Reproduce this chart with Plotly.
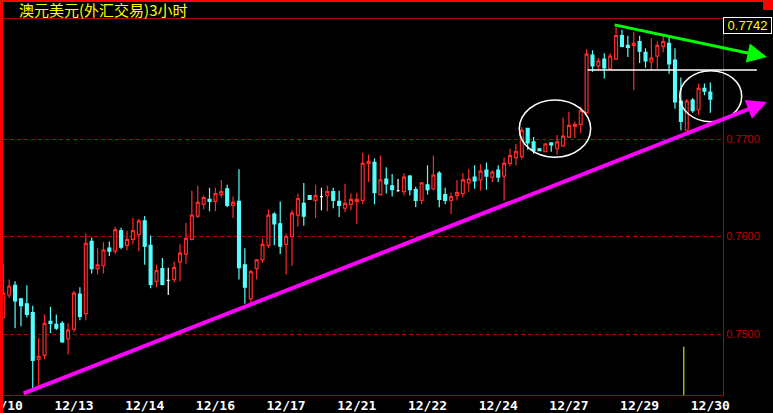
import plotly.graph_objects as go

# ---------------- data ----------------
title_text = "澳元美元(外汇交易)3小时"
last_price_label = "0.7742"

tick_index = [0, 12, 24, 36, 48, 60, 72, 84, 96, 108, 120]
tick_dates = ["12/10", "12/13", "12/14", "12/16", "12/17", "12/21",
              "12/22", "12/24", "12/27", "12/29", "12/30"]

open_p = [0.7517, 0.7540, 0.7550, 0.7536, 0.7531, 0.7522, 0.7474, 0.7478, 0.7513, 0.7510,
          0.7511, 0.7495, 0.7505, 0.7541, 0.7521, 0.7595, 0.7567, 0.7570, 0.7588, 0.7585,
          0.7606, 0.7591, 0.7597, 0.7602, 0.7616, 0.7591, 0.7554, 0.7567, 0.7555, 0.7556,
          0.7574, 0.7582, 0.7597, 0.7621, 0.7633, 0.7638, 0.7636, 0.7643, 0.7649, 0.7632,
          0.7636, 0.7571, 0.7536, 0.7567, 0.7576, 0.7591, 0.7623, 0.7613, 0.7592, 0.7600,
          0.7622, 0.7634, 0.7642, 0.7637, 0.7641, 0.7642, 0.7646, 0.7636, 0.7629, 0.7633,
          0.7636, 0.7637, 0.7675, 0.7676, 0.7643, 0.7659, 0.7652, 0.7647, 0.7646, 0.7662,
          0.7648, 0.7637, 0.7653, 0.7649, 0.7665, 0.7643, 0.7637, 0.7642, 0.7644, 0.7655,
          0.7661, 0.7658, 0.7668, 0.7661, 0.7668, 0.7662, 0.7675, 0.7681, 0.7682, 0.7711,
          0.7697, 0.7690, 0.7687, 0.7696, 0.7690, 0.7693, 0.7702, 0.7713, 0.7715, 0.7727,
          0.7786, 0.7775, 0.7782, 0.7772, 0.7782, 0.7806, 0.7796, 0.7796, 0.7800, 0.7789,
          0.7779, 0.7785, 0.7795, 0.7798, 0.7781, 0.7739, 0.7709, 0.7740, 0.7730, 0.7752,
          0.7748]
high_p = [0.7572, 0.7556, 0.7554, 0.7537, 0.7550, 0.7529, 0.7496, 0.7520, 0.7528, 0.7520,
          0.7513, 0.7511, 0.7544, 0.7548, 0.7603, 0.7599, 0.7588, 0.7594, 0.7595, 0.7610,
          0.7609, 0.7606, 0.7619, 0.7618, 0.7621, 0.7601, 0.7571, 0.7578, 0.7568, 0.7574,
          0.7592, 0.7614, 0.7647, 0.7652, 0.7642, 0.7650, 0.7650, 0.7658, 0.7653, 0.7641,
          0.7669, 0.7588, 0.7566, 0.7577, 0.7598, 0.7628, 0.7625, 0.7636, 0.7603, 0.7627,
          0.7644, 0.7655, 0.7642, 0.7653, 0.7650, 0.7652, 0.7650, 0.7647, 0.7654, 0.7644,
          0.7645, 0.7686, 0.7684, 0.7680, 0.7683, 0.7671, 0.7664, 0.7659, 0.7665, 0.7663,
          0.7651, 0.7656, 0.7673, 0.7683, 0.7667, 0.7650, 0.7645, 0.7658, 0.7665, 0.7669,
          0.7673, 0.7674, 0.7676, 0.7668, 0.7673, 0.7681, 0.7690, 0.7695, 0.7712, 0.7711,
          0.7702, 0.7690, 0.7695, 0.7696, 0.7704, 0.7722, 0.7728, 0.7718, 0.7733, 0.7792,
          0.7791, 0.7783, 0.7788, 0.7788, 0.7815, 0.7812, 0.7806, 0.7810, 0.7806, 0.7793,
          0.7803, 0.7800, 0.7806, 0.7805, 0.7793, 0.7763, 0.7741, 0.7742, 0.7757, 0.7757,
          0.7758]
low_p = [0.7516, 0.7537, 0.7506, 0.7508, 0.7517, 0.7444, 0.7446, 0.7474, 0.7501, 0.7504,
         0.7491, 0.7479, 0.7502, 0.7514, 0.7514, 0.7562, 0.7561, 0.7562, 0.7580, 0.7582,
         0.7587, 0.7586, 0.7592, 0.7585, 0.7571, 0.7547, 0.7548, 0.7550, 0.7540, 0.7553,
         0.7554, 0.7572, 0.7596, 0.7619, 0.7628, 0.7626, 0.7626, 0.7640, 0.7630, 0.7619,
         0.7556, 0.7531, 0.7532, 0.7556, 0.7573, 0.7588, 0.7591, 0.7582, 0.7561, 0.7570,
         0.7610, 0.7611, 0.7638, 0.7619, 0.7627, 0.7626, 0.7629, 0.7620, 0.7625, 0.7627,
         0.7613, 0.7633, 0.7656, 0.7633, 0.7642, 0.7644, 0.7641, 0.7646, 0.7642, 0.7642,
         0.7630, 0.7633, 0.7643, 0.7647, 0.7630, 0.7633, 0.7623, 0.7637, 0.7640, 0.7646,
         0.7649, 0.7647, 0.7648, 0.7656, 0.7656, 0.7637, 0.7672, 0.7673, 0.7679, 0.7689,
         0.7685, 0.7688, 0.7687, 0.7687, 0.7684, 0.7692, 0.7701, 0.7701, 0.7706, 0.7726,
         0.7769, 0.7771, 0.7762, 0.7771, 0.7781, 0.7794, 0.7784, 0.7750, 0.7778, 0.7773,
         0.7771, 0.7772, 0.7789, 0.7767, 0.7731, 0.7709, 0.7708, 0.7727, 0.7725, 0.7745,
         0.7727]
close_p = [0.7542, 0.7549, 0.7534, 0.7529, 0.7520, 0.7473, 0.7477, 0.7511, 0.7511, 0.7506,
           0.7492, 0.7504, 0.7542, 0.7518, 0.7593, 0.7567, 0.7571, 0.7586, 0.7585, 0.7607,
           0.7589, 0.7597, 0.7606, 0.7616, 0.7590, 0.7551, 0.7565, 0.7551, 0.7555, 0.7568,
           0.7583, 0.7598, 0.7622, 0.7635, 0.7640, 0.7636, 0.7644, 0.7646, 0.7632, 0.7635,
           0.7568, 0.7548, 0.7564, 0.7576, 0.7592, 0.7622, 0.7613, 0.7590, 0.7600, 0.7624,
           0.7639, 0.7621, 0.7638, 0.7642, 0.7641, 0.7646, 0.7637, 0.7632, 0.7634, 0.7638,
           0.7638, 0.7675, 0.7677, 0.7645, 0.7658, 0.7654, 0.7648, 0.7647, 0.7661, 0.7648,
           0.7637, 0.7655, 0.7648, 0.7663, 0.7638, 0.7637, 0.7641, 0.7645, 0.7658, 0.7659,
           0.7657, 0.7667, 0.7662, 0.7666, 0.7661, 0.7675, 0.7683, 0.7687, 0.7709, 0.7696,
           0.7688, 0.7688, 0.7695, 0.7694, 0.7697, 0.7703, 0.7714, 0.7715, 0.7729, 0.7787,
           0.7775, 0.7780, 0.7773, 0.7785, 0.7806, 0.7795, 0.7794, 0.7798, 0.7790, 0.7780,
           0.7783, 0.7796, 0.7800, 0.7777, 0.7738, 0.7718, 0.7739, 0.7729, 0.7752, 0.7749,
           0.7741]

grid_levels = [0.75, 0.76, 0.77]

# single yellow volume-style spike near the bottom
spike_x = [115.5, 115.5]
spike_y = [0.7487, 0.7430]

# drawn trend lines: (candle index, price) endpoints
support_line = [(3.2, 0.74385), (129.6, 0.77379)]
resist_line = [(103.5, 0.78174), (129.6, 0.77841)]
level_line = [(98.9, 0.77708), (127.9, 0.77708)]

# ---------------- styling ----------------
RED = "#ff2a2a"
CYAN = "#54ffff"
FRAME = "#b40000"
MAGENTA = "#ff00ff"
GREEN = "#00ff00"

idx = list(range(len(open_p)))
reg = [i for i in idx if open_p[i] != close_p[i]]
doj = [i for i in idx if open_p[i] == close_p[i]]

def pick(arr, ids):
    return [arr[i] for i in ids]

fig = go.Figure()
fig.add_trace(go.Candlestick(
    x=reg, open=pick(open_p, reg), high=pick(high_p, reg),
    low=pick(low_p, reg), close=pick(close_p, reg),
    increasing=dict(line=dict(color=RED, width=1.2), fillcolor="#000000"),
    decreasing=dict(line=dict(color=CYAN, width=1.2), fillcolor=CYAN),
    whiskerwidth=0, hoverinfo="skip", showlegend=False))
fig.add_trace(go.Candlestick(
    x=doj, open=pick(open_p, doj), high=pick(high_p, doj),
    low=pick(low_p, doj), close=pick(close_p, doj),
    increasing=dict(line=dict(color="#ffffff", width=1.2), fillcolor="#ffffff"),
    decreasing=dict(line=dict(color="#ffffff", width=1.2), fillcolor="#ffffff"),
    whiskerwidth=0, hoverinfo="skip", showlegend=False))
fig.add_trace(go.Scatter(x=spike_x, y=spike_y, mode="lines",
                         line=dict(color="#ffff00", width=1),
                         hoverinfo="skip", showlegend=False))

annotations = []
for (p0, p1, col, w, head, size) in [
        (support_line[0], support_line[1], MAGENTA, 4, 2, 1.0),
        (resist_line[0], resist_line[1], GREEN, 3, 2, 1.3),
        (level_line[0], level_line[1], "#ffffff", 1.5, 0, 1.0)]:
    annotations.append(dict(
        x=p1[0], y=p1[1], ax=p0[0], ay=p0[1],
        xref="x", yref="y", axref="x", ayref="y",
        text="", showarrow=True, arrowhead=head, arrowsize=size,
        arrowwidth=w, arrowcolor=col, standoff=0, startstandoff=0))

# title and last-price box
annotations.append(dict(
    x=0.0194, y=1.0253, xref="paper", yref="paper", xanchor="left", yanchor="middle",
    text=title_text, showarrow=False,
    font=dict(family="Noto Sans CJK SC", size=15, color="#ffff00")))
annotations.append(dict(
    x=1.0340, y=0.9827, xref="paper", yref="paper", xanchor="center", yanchor="middle",
    text=last_price_label, showarrow=False, width=45, height=13,
    bgcolor="#000000", bordercolor="#ffffff", borderwidth=1, borderpad=1,
    font=dict(family="Liberation Sans", size=13, color="#ffff00")))

shapes = [
    # hand-drawn ellipses
    dict(type="circle", xref="paper", yref="paper",
         x0=0.7171, x1=0.8162, y0=0.6322, y1=0.7846,
         line=dict(color="#ffffff", width=1.5)),
    dict(type="circle", xref="paper", yref="paper",
         x0=0.9399, x1=1.0260, y0=0.7269, y1=0.8625,
         line=dict(color="#ffffff", width=1.5)),
    # window chrome
    dict(type="rect", xref="paper", yref="paper", x0=-0.0042, x1=0.0, y0=-0.05, y1=1.06,
         fillcolor="#ff0000", line=dict(width=0), layer="above"),
    dict(type="rect", xref="paper", yref="paper", x0=-0.0042, x1=1.07, y0=1.0452, y1=1.06,
         fillcolor="#ff0000", line=dict(width=0), layer="above"),
    dict(type="rect", xref="paper", yref="paper", x0=1.0556, x1=1.07, y0=1.0239, y1=1.0452,
         fillcolor="#ff0000", line=dict(width=0), layer="above"),
]

fig.update_layout(
    width=773, height=413,
    margin=dict(l=3, r=50, t=19, b=18, autoexpand=False),
    paper_bgcolor="#000000", plot_bgcolor="#000000",
    showlegend=False, hovermode=False, boxgap=0.3,
    annotations=annotations, shapes=shapes,
    xaxis=dict(range=[-0.05, 122.15], showgrid=False, zeroline=False,
               showline=True, linecolor=FRAME, linewidth=1, mirror=True,
               rangeslider=dict(visible=False), automargin=False,
               tickmode="array", tickvals=tick_index, ticktext=tick_dates,
               ticks="", ticklabeloverflow="allow", ticklabelstandoff=-2,
               tickfont=dict(family="DejaVu Sans Mono", size=13, color="#ffffff",
                             weight="bold")),
    yaxis=dict(range=[0.743744, 0.782308], side="right", showgrid=True,
               gridcolor=FRAME, griddash="4px,3px", gridwidth=1, zeroline=False,
               showline=True, linecolor=FRAME, linewidth=1, mirror=True,
               automargin=False,
               tickmode="array", tickvals=grid_levels, tickformat=".4f",
               ticks="", ticklabeloverflow="allow",
               tickfont=dict(family="Liberation Sans", size=11, color="#c00000")),
)

fig.write_html("out.html", config={"displayModeBar": False},
               post_script="document.body.style.margin='0';")
